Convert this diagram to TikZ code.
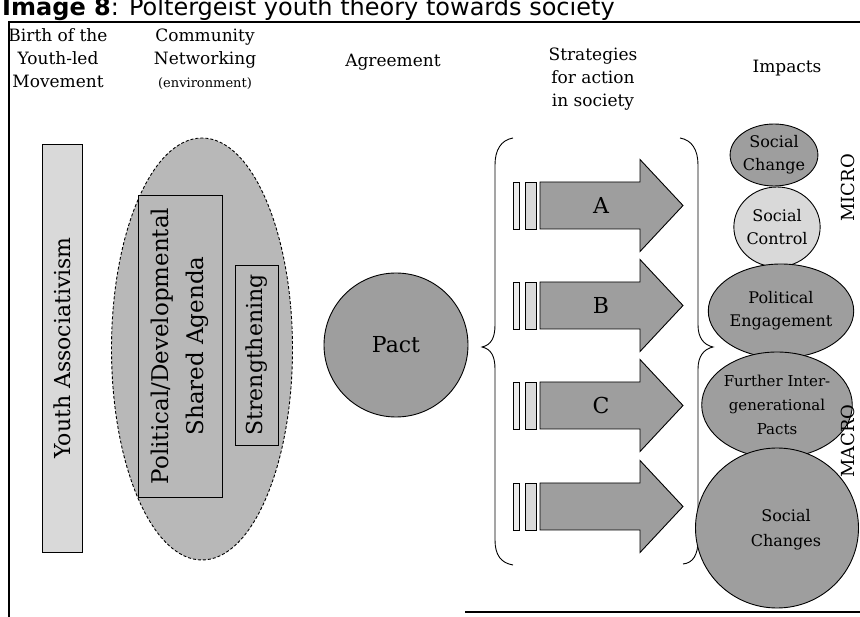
\documentclass[tikz,border=0pt]{standalone}
\usepackage{fontspec}
\setmainfont{DejaVu Serif}
\newfontfamily\titlefont{DejaVu Sans}
\usetikzlibrary{shapes.geometric}

\definecolor{paleshade}{gray}{0.85}
\definecolor{midshade}{gray}{0.72}
\definecolor{darkshade}{gray}{0.62}

\begin{document}
\begin{tikzpicture}[x=1pt,y=-1pt,
  outline/.style={draw=black,line width=0.9pt},
  hdr/.style={align=center,inner sep=0pt,font=\fontsize{17}{23}\selectfont},
  biglabel/.style={font=\fontsize{22}{34}\selectfont},
  impact/.style={ellipse,outline,fill=darkshade,inner sep=0pt,align=center,
                 font=\fontsize{16}{23}\selectfont},
  barlight/.style={outline,fill=white!92!black},
  bardark/.style={outline,fill=paleshade},
  shaft/.style={outline,fill=darkshade},
  bracket/.style={draw=black,line width=0.9pt},
  scale label/.style={rotate=90,inner sep=0pt,font=\fontsize{18}{20}\selectfont}]

\clip (0,0) rectangle (860,617);

% title and frame
\node[anchor=base west,inner sep=0pt,font=\titlefont\fontsize{24}{28}\selectfont] (title) at (2,16)
  {\textbf{Image 8}: Poltergeist youth theory towards society};
\draw[line width=1.2pt] (9,617) -- (9,22) -- (860,22);
\draw[line width=1.2pt] (465,612) -- (860,612);

% column headers
\node[hdr] (hbirth) at (58,58) {Birth of the\\Youth-led\\Movement};
\node[hdr] (hcomm) at (205,59) {Community\\Networking\\{\fontsize{13}{23}\selectfont(environment)}};
\node[hdr] (hagree) at (393,62) {Agreement};
\node[hdr] (hstrat) at (593,79) {Strategies\\for action\\in society};
\node[hdr] (himpact) at (787,68) {Impacts};

% youth-led movement
\node[outline,fill=paleshade,rotate=90,minimum width=408pt,minimum height=40pt,inner sep=0pt,biglabel]
  (youth) at (62,348) {Youth Associativism};

% community networking
\node[ellipse,draw=black,line width=0.9pt,dash pattern=on 3pt off 2pt,fill=midshade,
      minimum width=181pt,minimum height=422pt,inner sep=0pt] (network) at (202,349) {};
\node[outline,fill=midshade,rotate=90,minimum width=302pt,minimum height=84pt,inner sep=0pt,
      align=center,font=\fontsize{23}{35}\selectfont]
  (agenda) at (180,346) {Political/Developmental\\Shared Agenda};
\node[outline,fill=midshade,rotate=90,minimum width=180pt,minimum height=43pt,inner sep=0pt,biglabel]
  (strength) at (256.5,355) {Strengthening};

% agreement
\node[circle,outline,fill=darkshade,minimum size=144pt,inner sep=0pt,biglabel] (pact) at (396,345) {Pact};

% braces around the strategies
\draw[bracket] (513,138) .. controls (501,140) and (495,150) .. (495,165)
  -- (495,325) .. controls (495,338) and (491,345) .. (482,347)
  .. controls (491,349) and (495,356) .. (495,369)
  -- (495,540) .. controls (495,555) and (501,563) .. (513,565);
\draw[bracket] (680,138) .. controls (692,140) and (698,150) .. (698,165)
  -- (698,325) .. controls (698,338) and (704,345) .. (713,347)
  .. controls (704,349) and (698,356) .. (698,369)
  -- (698,540) .. controls (698,555) and (693,563) .. (683,564);

% strategy arrows
\foreach \cy/\lab/\n in {205.5/A/a,305.5/B/b,405.5/C/c,506.5//d}{
  \draw[barlight] (513,\cy-23.5) rectangle (519,\cy+23.5);
  \draw[bardark] (525,\cy-23.5) rectangle (536,\cy+23.5);
  \draw[shaft] (540,\cy-23.5) -- (640,\cy-23.5) -- (640,\cy-46) -- (683,\cy)
     -- (640,\cy+46) -- (640,\cy+23.5) -- (540,\cy+23.5) -- cycle;
  \node[biglabel,inner sep=0pt] (arrow\n) at (601,\cy) {\lab};
}

% impacts
\node[impact,minimum width=75pt,minimum height=62pt] (imp1) at (774,155) {Social\\Change};
\node[impact,fill=paleshade,minimum width=81pt,minimum height=80pt] (imp2) at (777,227) {Social\\Control};
\node[impact,minimum width=104pt,minimum height=94pt] (imp3) at (781,311) {Political\\Engagement};
\node[impact,minimum width=119pt,minimum height=106pt,font=\fontsize{15}{24}\selectfont] (imp4) at (777,405) {Further Inter-\\generational\\Pacts};
\node[impact,minimum width=163pt,minimum height=160pt] (imp5) at (777,528) {};
\node[align=center,inner sep=0pt,font=\fontsize{16}{25}\selectfont] (imp5text) at (786,530) {Social\\Changes};

\node[scale label] (micro) at (848,188) {MICRO};
\node[scale label] (macro) at (848,441) {MACRO};
\end{tikzpicture}
\end{document}
